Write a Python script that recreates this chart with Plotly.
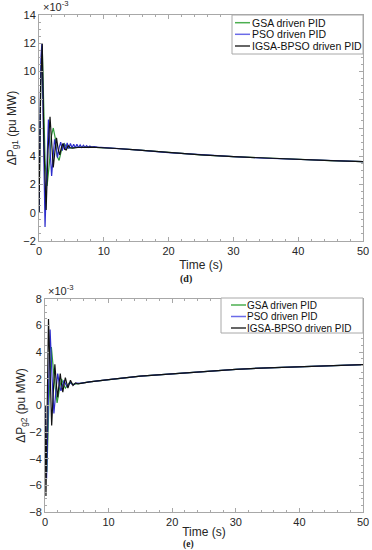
import plotly.graph_objects as go

# ---------------- data (values in units of 1e-3 pu MW) ----------------
tail_t = [10, 12, 15, 20, 25, 30, 35, 40, 45, 50]
tail_d = [4.62, 4.55, 4.45, 4.26, 4.10, 3.97, 3.86, 3.77, 3.69, 3.62]
tail_e = [1.95, 2.05, 2.20, 2.37, 2.55, 2.72, 2.83, 2.92, 3.00, 3.07]

# (d) Delta P_g1
d_gsa_t = [0, 0.15, 0.3, 0.5, 0.7, 0.95, 1.25, 1.6, 1.9, 2.2, 2.5, 2.8, 3.1, 3.5, 3.9, 4.4, 5, 6, 8] + tail_t
d_gsa_v = [0, 5, 10, 11.8, 8, 3.5, 1.9, 3.5, 5.4, 6.0, 5.3, 4.0, 3.7, 4.5, 4.9, 4.6, 4.6, 4.65, 4.65] + tail_d

d_pso_t = [0, 0.15, 0.3, 0.45, 0.65, 0.93, 1.2, 1.45, 1.7, 1.95, 2.15, 2.4, 2.65, 2.85, 3.1, 3.35,
           3.6, 3.85, 4.1, 4.35, 4.6, 4.85, 5.1, 5.35, 5.6, 5.85, 6.1, 6.35, 6.6, 6.85, 7.1, 7.35,
           7.6, 7.85, 8.1, 8.5, 9] + tail_t
d_pso_v = [0, 6, 11, 12, 6, -1.0, 3, 6.6, 4.5, 2.6, 3.8, 5.2, 4.6, 3.9, 4.6, 5.0,
           4.4, 4.9, 4.5, 4.95, 4.55, 4.9, 4.6, 4.85, 4.6, 4.85, 4.62, 4.8, 4.62, 4.78, 4.63, 4.75,
           4.63, 4.72, 4.64, 4.68, 4.65] + tail_d

d_igsa_t = [0, 0.1, 0.25, 0.5, 0.75, 1.1, 1.4, 1.7, 1.95, 2.2, 2.45, 2.7, 2.95, 3.2, 3.45, 3.7,
            3.95, 4.2, 4.5, 4.8, 5.2, 6, 8] + tail_t
d_igsa_v = [0, 3, 9, 12, 5, 0.2, 4.5, 6.8, 5.0, 3.2, 4.3, 5.3, 4.5, 4.1, 4.6, 4.9,
            4.5, 4.45, 4.75, 4.6, 4.58, 4.62, 4.65] + tail_d

# (e) Delta P_g2
e_gsa_t = [0, 0.15, 0.3, 0.6, 1.0, 1.45, 1.9, 2.25, 2.6, 2.9, 3.2, 3.5, 3.8, 4.5, 5, 7] + tail_t
e_gsa_v = [0, -3, -5, 0, 4.4, 2.0, 0.2, 1.2, 2.0, 1.6, 1.3, 1.5, 1.7, 1.6, 1.62, 1.78] + tail_e

e_pso_t = [0, 0.1, 0.25, 0.5, 0.8, 1.1, 1.4, 1.7, 2.0, 2.25, 2.5, 2.75, 3.0, 3.25, 3.5, 3.75, 4.0,
           4.25, 4.5, 4.75, 5.0, 5.5, 7] + tail_t
e_pso_v = [0, -3, -5.5, 0, 5.7, 2.2, -0.6, 1.0, 2.4, 1.6, 1.1, 1.5, 1.9, 1.6, 1.4, 1.6, 1.75,
           1.6, 1.55, 1.65, 1.68, 1.66, 1.78] + tail_e

e_igsa_t = [0, 0.07, 0.15, 0.35, 0.55, 0.8, 1.05, 1.3, 1.55, 1.8, 2.0, 2.2, 2.4, 2.6, 2.8, 3.0,
            3.2, 3.4, 3.6, 3.8, 4.0, 4.2, 4.4, 4.6, 4.8, 5.2, 7] + tail_t
e_igsa_v = [0, -4, -6.8, 0, 6.5, 2.5, -1.5, 1.0, 3.1, 1.5, 0.6, 1.6, 2.4, 1.6, 1.0, 1.6,
            2.1, 1.7, 1.3, 1.6, 1.9, 1.7, 1.5, 1.6, 1.7, 1.62, 1.78] + tail_e

series_names = ["GSA driven PID", "PSO driven PID", "IGSA-BPSO driven PID"]
colors = ["#2f9a3a", "#2d2dcc", "#111111"]
legend_colors = ["#4caf50", "#6b6be8", "#333333"]

x_ticks = [0, 10, 20, 30, 40, 50]
y_ticks_d = [-2, 0, 2, 4, 6, 8, 10, 12, 14]
y_ticks_e = [-8, -6, -4, -2, 0, 2, 4, 6, 8]

W, H = 372, 550
FONT = "Liberation Sans, Arial"


def px(x):
    return x / W


def py(y):
    return 1 - y / H


fig = go.Figure()

d_data = [(d_gsa_t, d_gsa_v), (d_pso_t, d_pso_v), (d_igsa_t, d_igsa_v)]
e_data = [(e_gsa_t, e_gsa_v), (e_pso_t, e_pso_v), (e_igsa_t, e_igsa_v)]

for (t, v), name, c in zip(d_data, series_names, colors):
    fig.add_trace(go.Scatter(x=t, y=v, mode="lines", name=name, line=dict(color=c, width=1.2),
                             xaxis="x", yaxis="y", showlegend=False))
for (t, v), name, c in zip(e_data, series_names, colors):
    fig.add_trace(go.Scatter(x=t, y=v, mode="lines", name=name, line=dict(color=c, width=1.2),
                             xaxis="x2", yaxis="y2", showlegend=False))

axis_common = dict(
    showline=True, mirror="ticks", linecolor="#a8a8a8", linewidth=1,
    ticks="inside", ticklen=4, tickcolor="#a8a8a8",
    showgrid=False, zeroline=False, automargin=False,
    tickfont=dict(family=FONT, size=11, color="#262626"),
)
title_font = dict(family=FONT, size=12, color="#262626")
minor_x = dict(ticks="inside", dtick=2, ticklen=2, tickcolor="#a8a8a8")
minor_y = dict(ticks="inside", dtick=0.5, ticklen=2, tickcolor="#a8a8a8")

shapes = []
annotations = [
    dict(text="×10<sup>-3</sup>", xref="paper", yref="paper", x=px(41), y=py(15),
         xanchor="left", yanchor="bottom", showarrow=False,
         font=dict(family=FONT, size=11, color="#262626")),
    dict(text="×10<sup>-3</sup>", xref="paper", yref="paper", x=px(46), y=py(299),
         xanchor="left", yanchor="bottom", showarrow=False,
         font=dict(family=FONT, size=11, color="#262626")),
    dict(text="<b>(d)</b>", xref="paper", yref="paper", x=px(186), y=py(279),
         xanchor="center", yanchor="middle", showarrow=False,
         font=dict(family="Liberation Serif, Times New Roman", size=10, color="#222")),
    dict(text="<b>(e)</b>", xref="paper", yref="paper", x=px(188), y=py(544.5),
         xanchor="center", yanchor="middle", showarrow=False,
         font=dict(family="Liberation Serif, Times New Roman", size=9.5, color="#222")),
]


def add_legend(box, line_x, text_x, rows, fsize):
    x0, x1, y0, y1 = box
    shapes.append(dict(type="rect", xref="paper", yref="paper", x0=px(x0), x1=px(x1),
                       y0=py(y1), y1=py(y0), line=dict(color="#a8a8a8", width=1),
                       fillcolor="white", layer="above"))
    for name, c, ry in zip(series_names, legend_colors, rows):
        shapes.append(dict(type="line", xref="paper", yref="paper", x0=px(line_x[0]), x1=px(line_x[1]),
                           y0=py(ry), y1=py(ry), line=dict(color=c, width=1.5), layer="above"))
        annotations.append(dict(text=name, xref="paper", yref="paper", x=px(text_x), y=py(ry),
                                xanchor="left", yanchor="middle", showarrow=False,
                                font=dict(family=FONT, size=fsize, color="#111")))


add_legend((232, 363, 15, 54), (235, 250), 250, (22.7, 34.3, 46), 10.5)
add_legend((221, 363, 298, 333), (231, 246), 245, (305, 316.5, 328), 10)

fig.update_layout(
    width=W, height=H,
    margin=dict(l=0, r=0, t=0, b=0),
    paper_bgcolor="white", plot_bgcolor="white",
    showlegend=False,
    xaxis=dict(domain=[px(39), px(363)], range=[0, 50], tickvals=x_ticks, anchor="y",
               title=dict(text="Time (s)", font=title_font, standoff=4),
               minor=minor_x, **axis_common),
    yaxis=dict(domain=[py(241), py(15)], range=[-2, 14], tickvals=y_ticks_d, anchor="x",
               title=dict(text="ΔP<sub>g1</sub> (pu MW)", font=title_font, standoff=4),
               minor=minor_y, **axis_common),
    xaxis2=dict(domain=[px(45), px(363)], range=[0, 50], tickvals=x_ticks, anchor="y2",
                title=dict(text="Time (s)", font=title_font, standoff=0),
                minor=minor_x, **axis_common),
    yaxis2=dict(domain=[py(512), py(299)], range=[-8, 8], tickvals=y_ticks_e, anchor="x2",
                title=dict(text="ΔP<sub>g2</sub> (pu MW)", font=title_font, standoff=1),
                minor=minor_y, **axis_common),
    shapes=shapes,
    annotations=annotations,
)

fig.write_html(
    "out.html",
    config={"displayModeBar": False},
    post_script="document.body.style.margin='0';document.body.style.overflow='hidden';",
)
